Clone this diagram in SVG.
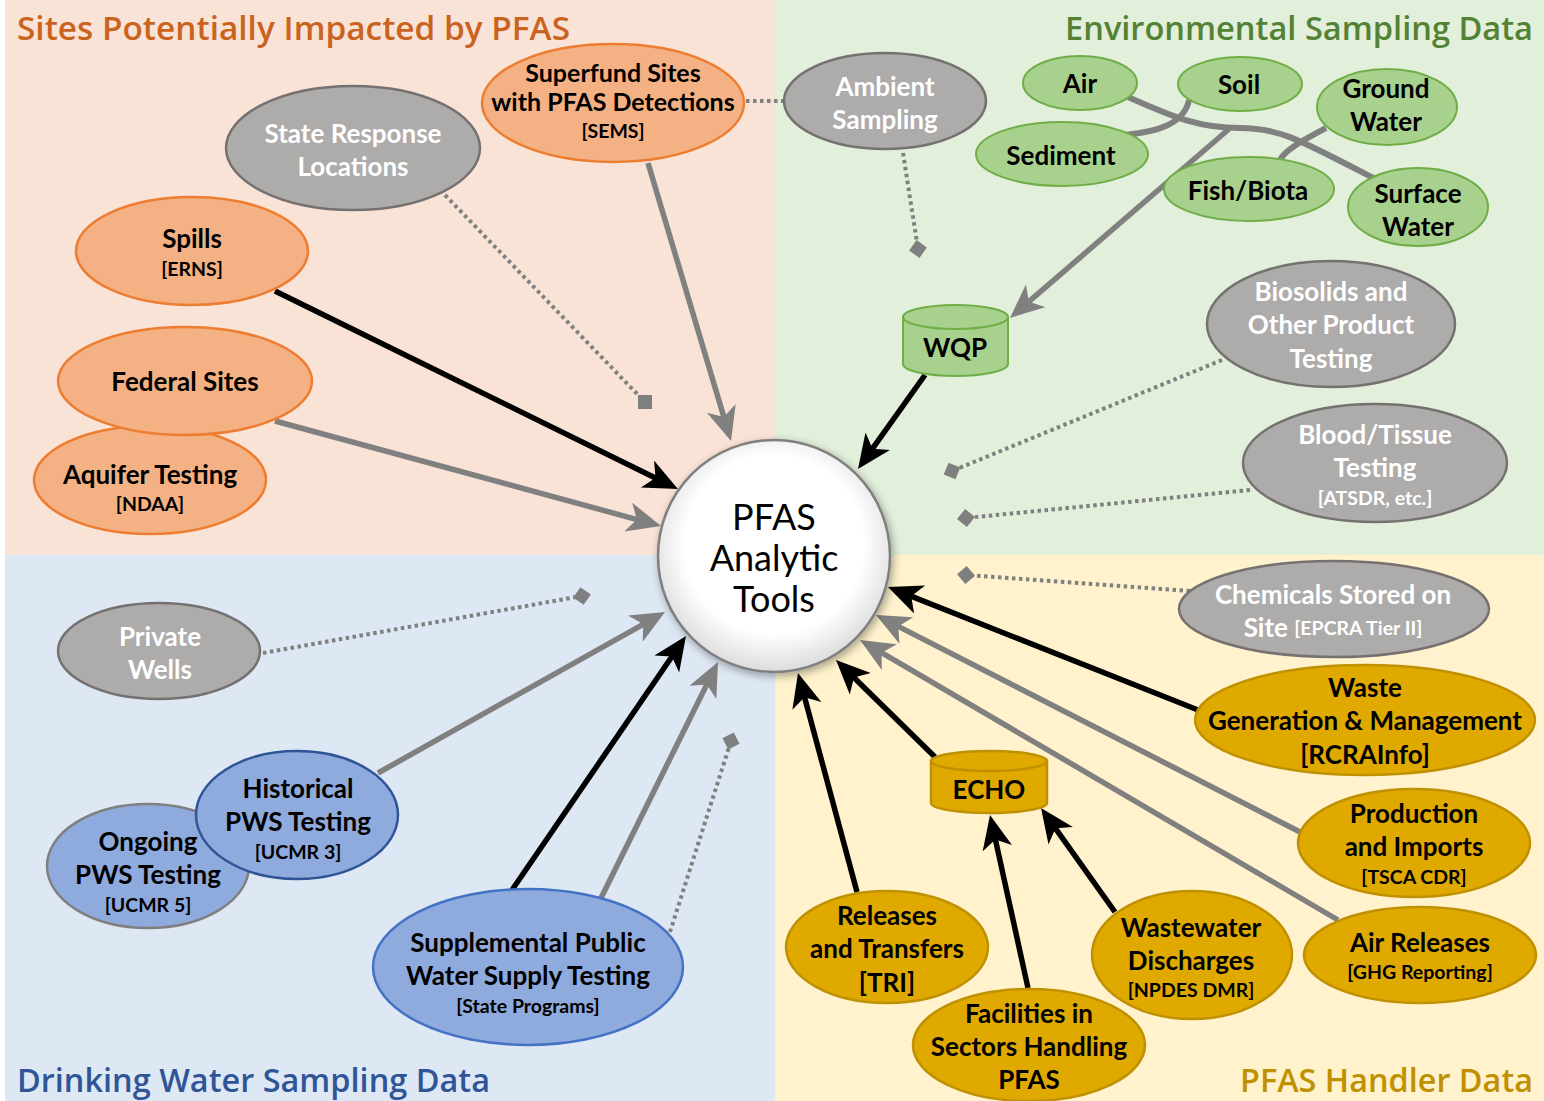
<svg xmlns="http://www.w3.org/2000/svg" width="1544" height="1101" viewBox="0 0 1544 1101">
<defs>
<style>
.t{font-family:Lato,"Open Sans","DejaVu Sans",sans-serif;font-weight:700;font-size:26px;text-anchor:middle;dominant-baseline:central}
.s{font-size:19.5px}
.w{fill:#ffffff}
.k{fill:#000000}
.c{font-weight:400;font-size:36px}
.title{font-family:"Open Sans","DejaVu Sans",sans-serif;font-size:33px;font-weight:600}
.gray{fill:#aeabab;stroke:#767171;stroke-width:2.5}
.or{fill:#f4b183;stroke:#ed7d31;stroke-width:2.5}
.gr{fill:#a9d18e;stroke:#70ad47;stroke-width:2}
.bl{fill:#8faadc;stroke:#4472c4;stroke-width:2.5}
.gd{fill:#dfa900;stroke:#bf9000;stroke-width:2.5}
.ga{fill:none;stroke:#808080;stroke-width:5.5;marker-end:url(#hg)}
.ba{fill:none;stroke:#000000;stroke-width:5.5;marker-end:url(#hb)}
.dot{fill:none;stroke:#808080;stroke-width:4;stroke-dasharray:3.5 3.5}
.dd{marker-end:url(#dm)}
.tree{fill:none;stroke:#808080;stroke-width:6}
</style>
<marker id="hg" markerUnits="userSpaceOnUse" markerWidth="36" markerHeight="32" refX="14" refY="15" orient="auto" viewBox="0 0 36 32">
<path d="M0,0 L34,15 L0,30 L9,15 Z" fill="#808080"/>
</marker>
<marker id="hb" markerUnits="userSpaceOnUse" markerWidth="36" markerHeight="32" refX="14" refY="15" orient="auto" viewBox="0 0 36 32">
<path d="M0,0 L34,15 L0,30 L9,15 Z" fill="#000000"/>
</marker>
<marker id="dm" markerUnits="userSpaceOnUse" markerWidth="20" markerHeight="20" refX="10" refY="10" orient="auto" viewBox="0 0 20 20">
<path d="M1,10 L10,1 L19,10 L10,19 Z" fill="#7f7f7f"/>
</marker>
<radialGradient id="cg" cx="50%" cy="45%" r="55%">
<stop offset="0" stop-color="#ffffff"/>
<stop offset="0.7" stop-color="#ffffff"/>
<stop offset="1" stop-color="#dcdcdc"/>
</radialGradient>
<filter id="sh" x="-20%" y="-20%" width="140%" height="140%">
<feDropShadow dx="2" dy="3" stdDeviation="4" flood-color="#000" flood-opacity="0.35"/>
</filter>
</defs>

<g id="background">
<rect x="0" y="0" width="1544" height="1101" fill="#ffffff"/>
<rect x="5" y="0" width="770" height="555" fill="#f9e3d6"/>
<rect x="775" y="0" width="769" height="555" fill="#e2efda"/>
<rect x="5" y="555" width="770" height="546" fill="#dde8f4"/>
<rect x="775" y="555" width="769" height="546" fill="#fff2cc"/>
<text class="title" x="17" y="40" fill="#c9631e" textLength="553" lengthAdjust="spacingAndGlyphs">Sites Potentially Impacted by PFAS</text>
<text class="title" x="1533" y="40" fill="#548235" text-anchor="end" textLength="468" lengthAdjust="spacingAndGlyphs">Environmental Sampling Data</text>
<text class="title" x="17" y="1092" fill="#2f5597" textLength="473" lengthAdjust="spacingAndGlyphs">Drinking Water Sampling Data</text>
<text class="title" x="1533" y="1092" fill="#bf9000" text-anchor="end" textLength="293" lengthAdjust="spacingAndGlyphs">PFAS Handler Data</text>
</g>

<g id="connectors">
<path class="dot" d="M445,195 L641,398"/>
<rect x="638" y="395" width="14" height="14" fill="#7f7f7f"/>
<path class="dot" d="M746,101 L785,101"/>
<path class="dot dd" d="M903,153 L918,249"/>
<path class="dot dd" d="M1222,360 L952,471"/>
<path class="dot dd" d="M1250,490 L966,518"/>
<path class="dot dd" d="M1190,591 L966,575"/>
<path class="dot dd" d="M263,653 L582,596"/>
<path class="dot dd" d="M670,932 L731,741"/>
<path class="tree" d="M1128,97 C1175,118 1200,128 1240,128 C1280,128 1300,140 1377,180"/>
<path class="tree" d="M1189,100 C1184,125 1155,132 1125,135"/>
<path class="tree" d="M1326,128 C1300,142 1285,150 1280,160"/>
<path class="ga" d="M1229,129 L1025.1,304.9"/>
<path class="ga" d="M648,163 L725.3,421.8"/>
<path class="ba" d="M275,291 L660,480.2"/>
<path class="ga" d="M275,421 L641.7,520.8"/>
<path class="ba" d="M925,375 L869.6,452.7"/>
<path class="ba" d="M1198,710 L906.6,594.4"/>
<path class="ga" d="M1300,832 L893.8,624.1"/>
<path class="ga" d="M1338,920 L877.3,650.1"/>
<path class="ba" d="M935,757 L850.3,674"/>
<path class="ba" d="M857,892 L803.2,692.3"/>
<path class="ba" d="M1028,988 L994.3,834.5"/>
<path class="ba" d="M1115,912 L1052.6,824.3"/>
<path class="ga" d="M378,773 L647.6,621.8"/>
<path class="ba" d="M512,890 L674.7,652.5"/>
<path class="ga" d="M601,898 L709.1,679.9"/>
</g>

<g id="n-state-response">
<ellipse class="gray" cx="353" cy="148" rx="127" ry="62"/>
<text class="t w" x="353" y="133">State Response</text>
<text class="t w" x="353" y="166">Locations</text>
</g>
<g id="n-superfund">
<ellipse class="or" cx="613" cy="103" rx="131" ry="59"/>
<text class="t k" x="613" y="72" style="font-size:25px">Superfund Sites</text>
<text class="t k" x="613" y="101" style="font-size:25px">with PFAS Detections</text>
<text class="t k s" x="613" y="130">[SEMS]</text>
</g>
<g id="n-spills">
<ellipse class="or" cx="192" cy="251" rx="116" ry="54"/>
<text class="t k" x="192" y="238">Spills</text>
<text class="t k s" x="192" y="268">[ERNS]</text>
</g>
<g id="n-aquifer">
<ellipse class="or" cx="150" cy="480" rx="116" ry="54"/>
<text class="t k" x="150" y="474">Aquifer Testing</text>
<text class="t k s" x="150" y="503">[NDAA]</text>
</g>
<g id="n-federal">
<ellipse class="or" cx="185" cy="381" rx="127" ry="54"/>
<text class="t k" x="185" y="381">Federal Sites</text>
</g>

<g id="n-ambient">
<ellipse class="gray" cx="885" cy="101" rx="101" ry="48"/>
<text class="t w" x="885" y="86">Ambient</text>
<text class="t w" x="885" y="119">Sampling</text>
</g>
<g id="n-air">
<ellipse class="gr" cx="1080" cy="83" rx="57" ry="27"/>
<text class="t k" x="1080" y="83">Air</text>
</g>
<g id="n-soil">
<ellipse class="gr" cx="1240" cy="84" rx="62" ry="27"/>
<text class="t k" x="1239" y="84">Soil</text>
</g>
<g id="n-ground-water">
<ellipse class="gr" cx="1387" cy="107" rx="70" ry="38"/>
<text class="t k" x="1386" y="88">Ground</text>
<text class="t k" x="1386" y="121">Water</text>
</g>
<g id="n-sediment">
<ellipse class="gr" cx="1062" cy="154" rx="86" ry="32"/>
<text class="t k" x="1061" y="155">Sediment</text>
</g>
<g id="n-fish">
<ellipse class="gr" cx="1249" cy="189" rx="85" ry="32"/>
<text class="t k" x="1248" y="190">Fish/Biota</text>
</g>
<g id="n-surface-water">
<ellipse class="gr" cx="1418" cy="207" rx="70" ry="39"/>
<text class="t k" x="1418" y="193">Surface</text>
<text class="t k" x="1418" y="226">Water</text>
</g>
<g id="n-wqp">
<path class="gr" d="M903,317 L903,364 A52.5,12 0 0 0 1008,364 L1008,317 Z"/>
<ellipse class="gr" cx="955.5" cy="317" rx="52.5" ry="12"/>
<text class="t k" x="955" y="347">WQP</text>
</g>
<g id="n-biosolids">
<ellipse class="gray" cx="1331" cy="324" rx="124" ry="63"/>
<text class="t w" x="1331" y="291">Biosolids and</text>
<text class="t w" x="1331" y="324">Other Product</text>
<text class="t w" x="1331" y="358">Testing</text>
</g>
<g id="n-blood">
<ellipse class="gray" cx="1375" cy="463" rx="132" ry="59"/>
<text class="t w" x="1375" y="434">Blood/Tissue</text>
<text class="t w" x="1375" y="467">Testing</text>
<text class="t w s" x="1375" y="497">[ATSDR, etc.]</text>
</g>

<g id="n-pfas-tools">
<circle cx="774" cy="556" r="116" fill="url(#cg)" stroke="#7f7f7f" stroke-width="2.5" filter="url(#sh)"/>
<text class="t k c" x="774" y="516">PFAS</text>
<text class="t k c" x="774" y="557">Analytic</text>
<text class="t k c" x="774" y="598">Tools</text>
</g>

<g id="n-private-wells">
<ellipse class="gray" cx="159" cy="651" rx="101" ry="48"/>
<text class="t w" x="160" y="636">Private</text>
<text class="t w" x="160" y="669">Wells</text>
</g>
<g id="n-ongoing">
<ellipse class="bl" cx="148" cy="866" rx="101" ry="62" style="stroke:#7f7f7f"/>
<text class="t k" x="148" y="841">Ongoing</text>
<text class="t k" x="148" y="874">PWS Testing</text>
<text class="t k s" x="148" y="904">[UCMR 5]</text>
</g>
<g id="n-historical">
<ellipse class="bl" cx="297" cy="815" rx="101" ry="64" style="stroke:#2f5597"/>
<text class="t k" x="298" y="788">Historical</text>
<text class="t k" x="298" y="821">PWS Testing</text>
<text class="t k s" x="298" y="851">[UCMR 3]</text>
</g>
<g id="n-supplemental">
<ellipse class="bl" cx="528" cy="967" rx="155" ry="78"/>
<text class="t k" x="528" y="942">Supplemental Public</text>
<text class="t k" x="528" y="975">Water Supply Testing</text>
<text class="t k s" x="528" y="1005">[State Programs]</text>
</g>

<g id="n-chemicals">
<ellipse class="gray" cx="1334" cy="609" rx="155" ry="48"/>
<text class="t w" x="1333" y="594">Chemicals Stored on</text>
<text class="t w" x="1333" y="627">Site <tspan class="s">[EPCRA Tier II]</tspan></text>
</g>
<g id="n-waste">
<ellipse class="gd" cx="1365" cy="720" rx="170" ry="55"/>
<text class="t k" x="1365" y="687">Waste</text>
<text class="t k" x="1365" y="720">Generation &amp; Management</text>
<text class="t k" x="1365" y="754">[RCRAInfo]</text>
</g>
<g id="n-echo">
<path class="gd" d="M931,761 L931,803 A58,10 0 0 0 1047,803 L1047,761 Z"/>
<ellipse class="gd" cx="989" cy="761" rx="58" ry="10"/>
<text class="t k" x="989" y="789">ECHO</text>
</g>
<g id="n-production">
<ellipse class="gd" cx="1414" cy="843" rx="116" ry="54"/>
<text class="t k" x="1414" y="813">Production</text>
<text class="t k" x="1414" y="846">and Imports</text>
<text class="t k s" x="1414" y="876">[TSCA CDR]</text>
</g>
<g id="n-releases">
<ellipse class="gd" cx="887" cy="947" rx="101" ry="56"/>
<text class="t k" x="887" y="915">Releases</text>
<text class="t k" x="887" y="948">and Transfers</text>
<text class="t k" x="887" y="982">[TRI]</text>
</g>
<g id="n-wastewater">
<ellipse class="gd" cx="1192" cy="955" rx="100" ry="64"/>
<text class="t k" x="1191" y="927">Wastewater</text>
<text class="t k" x="1191" y="960">Discharges</text>
<text class="t k s" x="1191" y="989">[NPDES DMR]</text>
</g>
<g id="n-air-releases">
<ellipse class="gd" cx="1420" cy="955" rx="116" ry="48"/>
<text class="t k" x="1420" y="942">Air Releases</text>
<text class="t k s" x="1420" y="971">[GHG Reporting]</text>
</g>
<g id="n-facilities">
<ellipse class="gd" cx="1029" cy="1045" rx="116" ry="56"/>
<text class="t k" x="1029" y="1013">Facilities in</text>
<text class="t k" x="1029" y="1046">Sectors Handling</text>
<text class="t k" x="1029" y="1079">PFAS</text>
</g>
</svg>
